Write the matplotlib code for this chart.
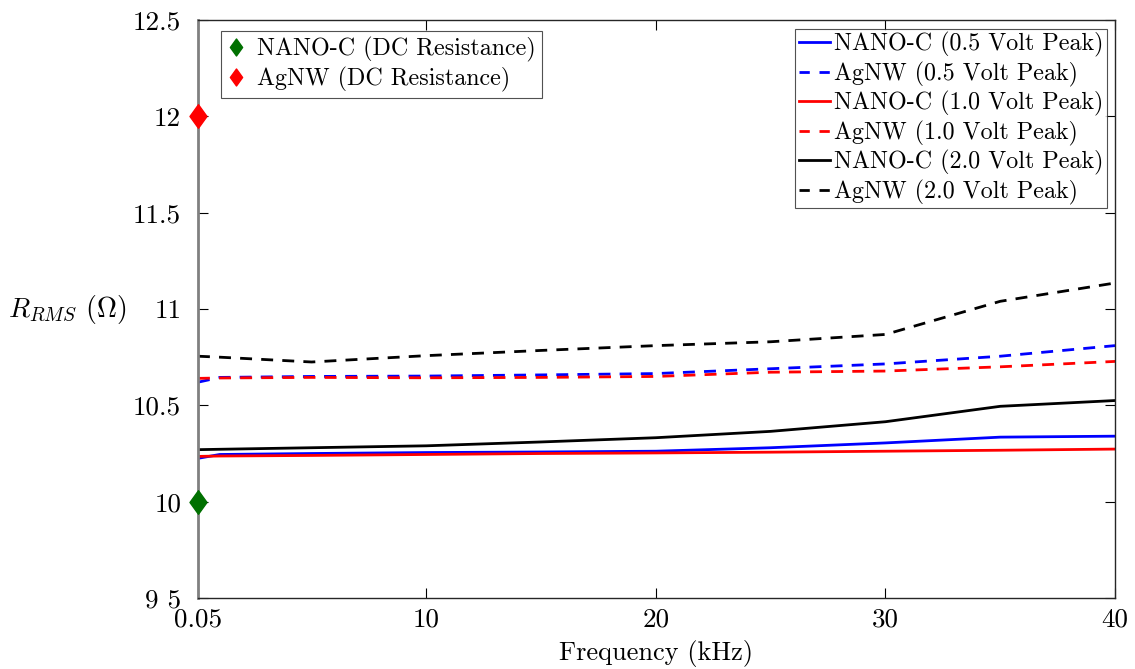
import matplotlib
matplotlib.use("Agg")
import matplotlib.pyplot as plt
from matplotlib.path import Path
from matplotlib.lines import Line2D

plt.rcParams['font.family'] = 'serif'
plt.rcParams['font.serif'] = ['cmr10', 'DejaVu Serif']
plt.rcParams['mathtext.fontset'] = 'cm'
plt.rcParams['axes.unicode_minus'] = False

freq = [0.05, 1, 5, 10, 15, 20, 25, 30, 35, 40]
nano_05 = [10.225, 10.245, 10.25, 10.255, 10.258, 10.262, 10.28, 10.305, 10.335, 10.34]
agnw_05 = [10.62, 10.645, 10.65, 10.652, 10.658, 10.665, 10.69, 10.715, 10.755, 10.81]
nano_10 = [10.235, 10.237, 10.24, 10.245, 10.25, 10.253, 10.257, 10.262, 10.267, 10.273]
agnw_10 = [10.64, 10.642, 10.645, 10.643, 10.645, 10.65, 10.672, 10.678, 10.70, 10.728]
nano_20 = [10.27, 10.272, 10.28, 10.29, 10.31, 10.332, 10.365, 10.415, 10.495, 10.525]
agnw_20 = [10.755, 10.75, 10.725, 10.758, 10.785, 10.81, 10.83, 10.868, 11.04, 11.135]

dc_freq = [0.05, 0.05]
dc_vals = [10.0, 12.0]
dc_labels = ['NANO-C (DC Resistance)', 'AgNW (DC Resistance)']
dc_colors = ['#007000', '#ff0000']

xticks = [0.05, 10, 20, 30, 40]
xticklabels = ['0.05', '10', '20', '30', '40']
yticks = [9.5, 10, 10.5, 11, 11.5, 12, 12.5]
yticklabels = ['9 5', '10', '10.5', '11', '11.5', '12', '12.5']

diamond = Path([(0, 1), (0.72, 0), (0, -1), (-0.72, 0), (0, 1)],
               [Path.MOVETO, Path.LINETO, Path.LINETO, Path.LINETO, Path.CLOSEPOLY])

fig = plt.figure(figsize=(11.35, 6.69), dpi=100)
ax = fig.add_axes([0.1744, 0.1061, 0.9824 - 0.1744, 0.9701 - 0.1061])

lw = 2.0
dash = (4.3, 3.3)
series = [
    (nano_05, 'blue', '-', 'NANO-C (0.5 Volt Peak)'),
    (agnw_05, 'blue', '--', 'AgNW (0.5 Volt Peak)'),
    (nano_10, 'red', '-', 'NANO-C (1.0 Volt Peak)'),
    (agnw_10, 'red', '--', 'AgNW (1.0 Volt Peak)'),
    (nano_20, 'black', '-', 'NANO-C (2.0 Volt Peak)'),
    (agnw_20, 'black', '--', 'AgNW (2.0 Volt Peak)'),
]
legend_handles = []
for vals, c, ls, lab in series:
    if ls == '--':
        ax.plot(freq, vals, color=c, lw=lw, dashes=dash)
        legend_handles.append(Line2D([], [], color=c, lw=lw, dashes=(3.7, 3.5), label=lab))
    else:
        ax.plot(freq, vals, color=c, lw=lw)
        legend_handles.append(Line2D([], [], color=c, lw=lw, label=lab))

dc_handles = []
for f, v, c, lab in zip(dc_freq, dc_vals, dc_colors, dc_labels):
    h, = ax.plot([f], [v], linestyle='none', marker=diamond, markersize=17,
                 color=c, clip_on=False, zorder=5, label=lab)
    dc_handles.append(h)

ax.set_xlim(0.05, 40)
ax.set_ylim(9.5, 12.5)
ax.set_xticks(xticks)
ax.set_xticklabels(xticklabels)
ax.set_yticks(yticks)
ax.set_yticklabels(yticklabels)
ax.tick_params(direction='in', top=True, right=True, labelsize=19.5, length=7, width=0.8)
ax.tick_params(axis='y', pad=12)
ax.tick_params(axis='x', pad=7)

for s in ['top', 'right', 'bottom']:
    ax.spines[s].set_color('#262626')
    ax.spines[s].set_linewidth(1.0)
ax.spines['left'].set_color('#808080')
ax.spines['left'].set_linewidth(2.0)

ax.set_xlabel('Frequency (kHz)', fontsize=19, labelpad=6)
ax.set_ylabel(r'$R_{RMS}$ $(\Omega)$', fontsize=20, rotation=0, ha='center', va='center')
ax.yaxis.set_label_coords(-0.142, 0.5)

leg1 = ax.legend(handles=dc_handles, loc='upper left', bbox_to_anchor=(0.025, 0.981),
                 fontsize=17.3, frameon=True, fancybox=False, edgecolor='#262626',
                 handlelength=0.8, handletextpad=0.45, borderpad=0.25, labelspacing=0.2,
                 markerscale=0.72, borderaxespad=0)
leg1.get_frame().set_linewidth(0.8)
ax.add_artist(leg1)

leg2 = ax.legend(handles=legend_handles, loc='upper right', bbox_to_anchor=(0.991, 0.985),
                 fontsize=17.3, frameon=True, fancybox=False, edgecolor='#262626',
                 handlelength=1.3, handletextpad=0.15, borderpad=0.15, labelspacing=0.18,
                 borderaxespad=0)
leg2.get_frame().set_linewidth(0.8)

fig.savefig('out.png', dpi=100)
